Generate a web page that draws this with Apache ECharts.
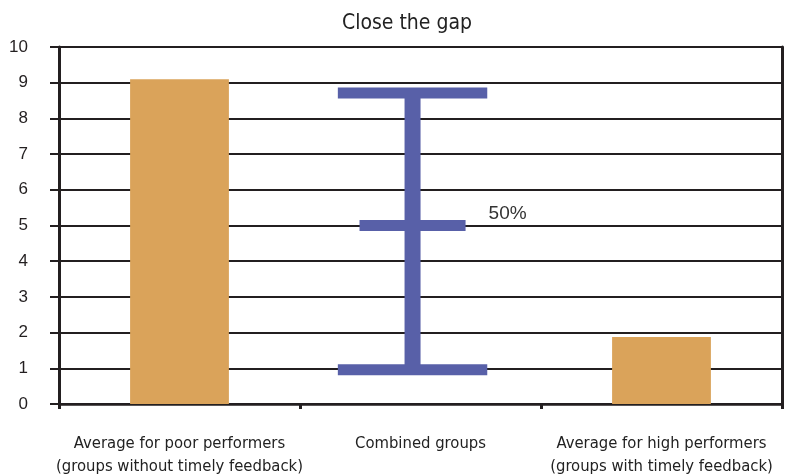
<!DOCTYPE html>
<html>
<head>
<meta charset="utf-8">
<title>Close the gap</title>
<script src="https://cdn.jsdelivr.net/npm/echarts@6/dist/echarts.min.js"></script>
<style>
  html, body { margin: 0; padding: 0; background: #fff; }
  #chart { width: 790px; height: 475px; }
</style>
</head>
<body>
<div id="chart"></div>
<script>
// Chart data
const chartTitle = 'Close the gap';
const categories = [
  'Average for poor performers\n(groups without timely feedback)',
  'Combined groups',
  'Average for high performers\n(groups with timely feedback)'
];
// Group averages (orange bars); the combined group has no bar
const groupAverages = [9.1, null, 1.88];
// Combined groups range: [category index, low, midpoint, high]
const combinedRange = [[1, 0.96, 5.0, 8.71]];
const midpointLabel = '50%';
const yTicks = { min: 0, max: 10, step: 1 };

const narrowFont = '"DejaVu Sans Condensed", "Liberation Sans Narrow", sans-serif';
const plainFont = '"Liberation Sans", Arial, sans-serif';
const ink = '#231f20';
const orange = '#DAA35A';
const blue = '#5860A8';

const chart = echarts.init(document.getElementById('chart'), null, { renderer: 'canvas' });

function renderRange(params, api) {
  const cat = api.value(0);
  const lo = api.coord([cat, api.value(1)]);
  const mid = api.coord([cat, api.value(2)]);
  const hi = api.coord([cat, api.value(3)]);
  const band = api.size([1, 0])[0];
  const cx = lo[0] - band * 0.033;
  const capW = band * 0.62;
  const midW = band * 0.44;
  const thick = 11;
  const stemW = 16;
  const fill = { fill: blue };
  return {
    type: 'group',
    children: [
      { type: 'rect', shape: { x: cx - stemW / 2, y: hi[1], width: stemW, height: lo[1] - hi[1] }, style: fill },
      { type: 'rect', shape: { x: cx - capW / 2, y: hi[1] - thick / 2, width: capW, height: thick }, style: fill },
      { type: 'rect', shape: { x: cx - capW / 2, y: lo[1] - thick / 2, width: capW, height: thick }, style: fill },
      { type: 'rect', shape: { x: cx - midW / 2, y: mid[1] - thick / 2, width: midW, height: thick }, style: fill },
      {
        type: 'text',
        style: {
          text: midpointLabel,
          x: cx + midW / 2 + 23,
          y: mid[1] - 12,
          verticalAlign: 'middle',
          align: 'left',
          fill: '#333',
          font: '19px ' + plainFont
        }
      }
    ]
  };
}

chart.setOption({
  animation: false,
  backgroundColor: '#fff',
  title: {
    text: chartTitle,
    left: 402,
    top: 8,
    textAlign: 'center',
    textStyle: { fontFamily: narrowFont, fontSize: 21, fontWeight: 'normal', color: '#222' }
  },
  grid: { left: 59, right: 8, top: 47, bottom: 71, containLabel: false, outerBoundsMode: 'none' },
  xAxis: {
    type: 'category',
    data: categories,
    boundaryGap: true,
    axisLine: { show: true, lineStyle: { color: ink, width: 2.5 } },
    axisTick: { show: true, interval: 0, length: 5, lineStyle: { color: ink, width: 3 } },
    axisLabel: {
      interval: 0,
      hideOverlap: false,
      margin: 28,
      color: '#222',
      fontFamily: narrowFont,
      fontSize: 16.5,
      lineHeight: 23
    },
    splitLine: { show: false }
  },
  yAxis: [
    {
      type: 'value',
      min: yTicks.min,
      max: yTicks.max,
      interval: yTicks.step,
      axisLine: { show: true, lineStyle: { color: ink, width: 3 } },
      axisTick: { show: true, length: 9, lineStyle: { color: ink, width: 2 } },
      axisLabel: { margin: 31, color: ink, fontFamily: plainFont, fontSize: 17 },
      splitLine: { show: true, lineStyle: { color: ink, width: 2 } }
    },
    {
      type: 'value',
      position: 'right',
      min: yTicks.min,
      max: yTicks.max,
      interval: yTicks.step,
      axisLine: { show: true, lineStyle: { color: ink, width: 3 } },
      axisTick: { show: false },
      axisLabel: { show: false },
      splitLine: { show: false }
    }
  ],
  series: [
    {
      type: 'bar',
      data: groupAverages,
      barWidth: '41%',
      itemStyle: { color: orange },
      z: 3
    },
    {
      type: 'custom',
      renderItem: renderRange,
      data: combinedRange,
      encode: { x: 0, y: [1, 2, 3] },
      z: 4
    }
  ]
});
</script>
</body>
</html>
